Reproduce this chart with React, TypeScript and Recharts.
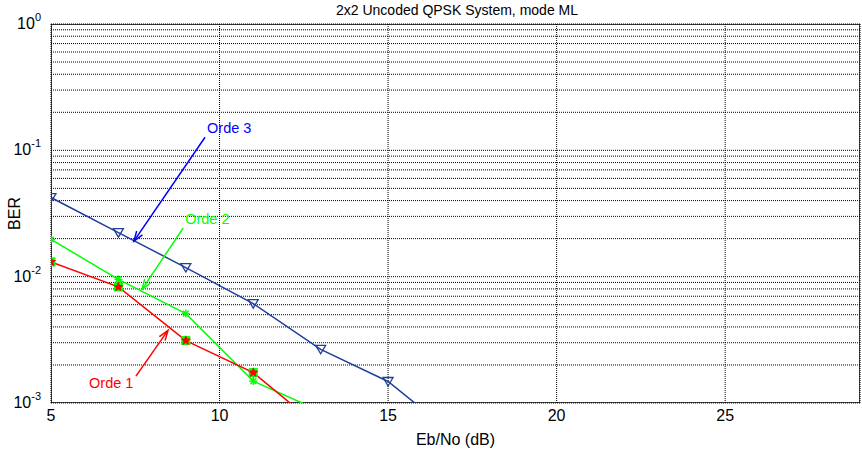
import React from 'react';
import { LineChart, Line, XAxis, YAxis, CartesianGrid, ReferenceLine, ReferenceArea, Label } from 'recharts';

const EBNO = [5, 7, 9, 11, 13, 15, 17];
const ORDE1 = [0.0131, 0.0083, 0.00312, 0.00174, 0.00063, null, null];
const ORDE2 = [0.0197, 0.00953, 0.0051, 0.00149, 0.00086, null, null];
const ORDE3 = [0.0423, 0.0223, 0.0118, 0.00612, 0.00266, 0.00148, 0.00055];

const X_TICKS = [5, 10, 15, 20, 25];
const DECADES = [1e-3, 1e-2, 1e-1, 1];
const Y_TICKS = [1e-3, 1e-2, 1e-1].flatMap((d) => [1, 2, 3, 4, 5, 6, 7, 8, 9].map((m) => +(m * d).toPrecision(3))).concat([1]);

// annotation arrows: [label, color, textX, textY, fromX, fromY, toX, toY]
const NOTES: [string, string, number, number, number, number, number, number][] = [
  ['Orde 3', '#0000ff', 9.63, 0.15, 9.57, 0.127, 7.46, 0.0191],
  ['Orde 2', '#00ff00', 8.98, 0.0285, 8.92, 0.0242, 7.7, 0.00794],
  ['Orde 1', '#ff0000', 6.13, 0.00143, 7.52, 0.00163, 8.47, 0.00376],
];

const data = EBNO.map((x, i) => ({ x, o1: ORDE1[i], o2: ORDE2[i], o3: ORDE3[i] }));

const FONT = 'Liberation Sans, Arial, sans-serif';

function YTick({ x, y, payload }: any) {
  const v = payload.value;
  const isDecade = DECADES.some((d) => Math.abs(d - v) / d < 1e-6);
  if (!isDecade) return null;
  const exp = Math.round(Math.log10(v));
  return (
    <text x={x - 2} y={y + 5} textAnchor="end" fontFamily={FONT} fontSize={16} fill="#000">
      10<tspan dy={-8} fontSize={11}>{exp}</tspan>
    </text>
  );
}

function Star({ cx, cy, r, fill }: any) {
  const pts: string[] = [];
  for (let i = 0; i < 10; i++) {
    const a = (Math.PI / 5) * i - Math.PI / 2;
    const rr = i % 2 === 0 ? r : r * 0.45;
    pts.push(`${cx + rr * Math.cos(a)},${cy + rr * Math.sin(a)}`);
  }
  return <polygon points={pts.join(' ')} fill={fill} />;
}

const SquareDot = (p: any) => {
  if (p.value == null || p.cy == null) return <g key={p.key} />;
  return (
    <g key={p.key}>
      <rect x={p.cx - 4.5} y={p.cy - 4.5} width={9} height={9} fill="#00ff00" />
      <Star cx={p.cx} cy={p.cy} r={5.5} fill="#ff0000" />
    </g>
  );
};

const AsteriskDot = (p: any) => {
  if (p.value == null || p.cy == null) return <g key={p.key} />;
  const s = 4;
  return (
    <g key={p.key} stroke="#00ff00" strokeWidth={1.5}>
      <line x1={p.cx - s} y1={p.cy} x2={p.cx + s} y2={p.cy} />
      <line x1={p.cx} y1={p.cy - s} x2={p.cx} y2={p.cy + s} />
      <line x1={p.cx - s * 0.7} y1={p.cy - s * 0.7} x2={p.cx + s * 0.7} y2={p.cy + s * 0.7} />
      <line x1={p.cx - s * 0.7} y1={p.cy + s * 0.7} x2={p.cx + s * 0.7} y2={p.cy - s * 0.7} />
    </g>
  );
};

const TriDot = (p: any) => {
  if (p.value == null || p.cy == null || p.cy > 404) return <g key={p.key} />;
  const { cx, cy } = p;
  return (
    <polygon
      key={p.key}
      points={`${cx - 5},${cy - 4} ${cx + 5},${cy - 4} ${cx},${cy + 4.5}`}
      fill="none"
      stroke="#1f3f9f"
      strokeWidth={1.3}
    />
  );
};

function arrowShape(color: string) {
  return (props: any) => {
    const { x1, y1, x2, y2 } = props;
    if ([x1, y1, x2, y2].some((v) => v == null || isNaN(v))) return <g />;
    const ang = Math.atan2(y2 - y1, x2 - x1);
    const L = 10;
    const W = 3.5;
    const bx = x2 - L * Math.cos(ang);
    const by = y2 - L * Math.sin(ang);
    const px = -Math.sin(ang) * W;
    const py = Math.cos(ang) * W;
    return (
      <g stroke={color} strokeWidth={1.5} fill="none">
        <line x1={x1} y1={y1} x2={x2} y2={y2} />
        <polyline points={`${bx + px},${by + py} ${x2},${y2} ${bx - px},${by - py}`} />
      </g>
    );
  };
}

export default function App() {
  return (
    <div style={{ position: 'absolute', left: 0, top: 0, background: '#fff' }}>
      <LineChart width={862} height={450} data={data} margin={{ top: 24, right: 2, bottom: 0, left: 0 }}>
        <text x={457} y={15} textAnchor="middle" fontFamily={FONT} fontSize={14} fill="#000">
          2x2 Uncoded QPSK System, mode ML
        </text>
        <CartesianGrid stroke="#000" strokeDasharray="1 1" strokeWidth={1} vertical={true} horizontal={true} />
        <XAxis
          dataKey="x"
          type="number"
          domain={[5, 29]}
          ticks={X_TICKS}
          allowDataOverflow
          height={47}
          tickLine={false}
          axisLine={false}
          tick={{ fontFamily: FONT, fontSize: 16, fill: '#000' }}
          tickMargin={1}
        >
          <Label value="Eb/No (dB)" position="insideBottom" offset={5} style={{ fontFamily: FONT, fontSize: 16, fill: '#000' }} />
        </XAxis>
        <YAxis
          type="number"
          scale="log"
          domain={[1e-3, 1]}
          ticks={Y_TICKS}
          allowDataOverflow
          width={51}
          tickLine={false}
          axisLine={false}
          tick={<YTick />}
          interval={0}
        >
          <Label value="BER" angle={-90} position="insideLeft" offset={14} style={{ fontFamily: FONT, fontSize: 16, fill: '#000', textAnchor: 'middle' }} />
        </YAxis>
        <ReferenceArea x1={5} x2={29} y1={1e-3} y2={1} fill="none" stroke="#000" strokeWidth={1.5} ifOverflow="hidden" />
        <Line dataKey="o3" stroke="#1f3f9f" strokeWidth={1.5} dot={TriDot} isAnimationActive={false} connectNulls={false} />
        <Line dataKey="o2" stroke="#00ff00" strokeWidth={1.5} dot={AsteriskDot} isAnimationActive={false} connectNulls={false} />
        <Line dataKey="o1" stroke="#ff0000" strokeWidth={1.5} dot={SquareDot} isAnimationActive={false} connectNulls={false} />
        {NOTES.map(([label, color, tx, ty, fx, fy, ex, ey]) => (
          <ReferenceLine
            key={label}
            segment={[{ x: fx, y: fy }, { x: ex, y: ey }]}
            ifOverflow="visible"
            shape={arrowShape(color)}
          />
        ))}
        {NOTES.map(([label, color, tx, ty]) => (
          <ReferenceLine
            key={label + 't'}
            segment={[{ x: tx, y: ty }, { x: tx + 0.01, y: ty }]}
            ifOverflow="visible"
            shape={(p: any) => (
              <text x={p.x1} y={p.y1 + 5} fontFamily={FONT} fontSize={14.5} fill={color}>
                {label}
              </text>
            )}
          />
        ))}
      </LineChart>
    </div>
  );
}
